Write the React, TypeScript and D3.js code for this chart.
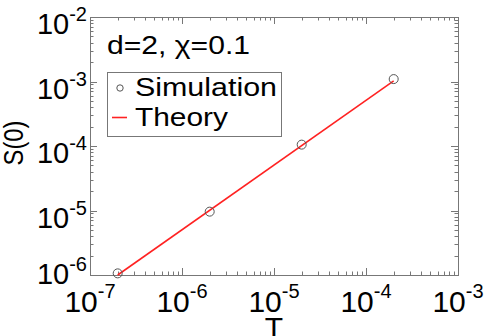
import React, { useEffect, useRef } from 'react';
import * as d3 from 'd3';

// simulation points and theory line
const simT = [2e-7, 2e-6, 2e-5, 2e-4];
const simS = [1.06e-6, 9.6e-6, 1.05e-4, 1.09e-3];
const theoryT = [2e-7, 2e-4];
const theoryS = [1.0e-6, 1.02e-3];
const xExps = [-7, -6, -5, -4, -3];
const yExps = [-6, -5, -4, -3, -2];

const W = 485, H = 336;
const m = { left: 90, right: 458, top: 17, bottom: 275 };
const font = 'Liberation Sans, Arial, Helvetica, sans-serif';

const App = () => {
    const ref = useRef<SVGSVGElement>(null);
    useEffect(() => {
        const svg = d3.select(ref.current);
        svg.selectAll('*').remove();

        const x = d3.scaleLog().domain([1e-7, 1e-3]).range([m.left, m.right]);
        const y = d3.scaleLog().domain([1e-6, 1e-2]).range([m.bottom, m.top]);

        const frame = '#777';
        const ticks = svg.append('g').attr('stroke', frame).attr('stroke-width', 1);

        // log ticks, mirrored on all four sides, pointing inward
        x.ticks().forEach(t => {
            const major = xExps.some(e => Math.abs(Math.log10(t) - e) < 1e-6);
            const len = major ? 7 : 3.5;
            const px = Math.round(x(t)) + 0.5;
            ticks.append('line').attr('x1', px).attr('x2', px).attr('y1', m.bottom).attr('y2', m.bottom - len);
            ticks.append('line').attr('x1', px).attr('x2', px).attr('y1', m.top).attr('y2', m.top + len);
        });
        y.ticks().forEach(t => {
            const major = yExps.some(e => Math.abs(Math.log10(t) - e) < 1e-6);
            const len = major ? 7 : 3.5;
            const py = Math.round(y(t)) + 0.5;
            ticks.append('line').attr('y1', py).attr('y2', py).attr('x1', m.left).attr('x2', m.left + len);
            ticks.append('line').attr('y1', py).attr('y2', py).attr('x1', m.right).attr('x2', m.right - len);
        });

        svg.append('rect')
            .attr('x', m.left + 0.5).attr('y', m.top + 0.5)
            .attr('width', m.right - m.left).attr('height', m.bottom - m.top)
            .attr('fill', 'none').attr('stroke', frame).attr('stroke-width', 1);

        // x tick labels
        const xl = svg.append('g').attr('font-family', font).attr('fill', '#000');
        xExps.forEach(e => {
            const t = xl.append('text')
                .attr('x', x(Math.pow(10, e)))
                .attr('y', 312)
                .attr('text-anchor', 'middle')
                .attr('font-size', 30);
            t.append('tspan').text('10');
            t.append('tspan').attr('font-size', 20).attr('dy', -14).text(String(e));
        });

        // y tick labels
        const yl = svg.append('g').attr('font-family', font).attr('fill', '#000');
        yExps.forEach(e => {
            const t = yl.append('text')
                .attr('x', 87)
                .attr('y', y(Math.pow(10, e)) + (e === -6 ? 9 : 17))
                .attr('text-anchor', 'end')
                .attr('font-size', 29);
            t.append('tspan').text('10');
            t.append('tspan').attr('font-size', 20).attr('dy', -13).text(String(e));
        });

        // axis titles
        svg.append('text')
            .attr('transform', 'translate(23,143) rotate(-90)')
            .attr('text-anchor', 'middle')
            .attr('font-family', font).attr('font-size', 28)
            .attr('textLength', 45).attr('lengthAdjust', 'spacingAndGlyphs')
            .text('S(0)');
        svg.append('text')
            .attr('x', (m.left + m.right) / 2).attr('y', 338)
            .attr('text-anchor', 'middle')
            .attr('font-family', font).attr('font-size', 30)
            .text('T');

        // theory line
        const line = d3.line<number>()
            .x((d, i) => x(theoryT[i]))
            .y(d => y(d));
        svg.append('path')
            .datum(theoryS)
            .attr('d', line)
            .attr('fill', 'none')
            .attr('stroke', '#f22')
            .attr('stroke-width', 1.6);

        // simulation circles
        svg.append('g')
            .selectAll('circle')
            .data(simS)
            .join('circle')
            .attr('cx', (d, i) => x(simT[i]))
            .attr('cy', d => y(d))
            .attr('r', 4.5)
            .attr('fill', 'none')
            .attr('stroke', '#555')
            .attr('stroke-width', 1);

        // annotation
        svg.append('text')
            .attr('x', 107).attr('y', 54)
            .attr('font-family', font).attr('font-size', 26)
            .attr('textLength', 143).attr('lengthAdjust', 'spacingAndGlyphs')
            .text('d=2, χ=0.1');

        // legend
        const lg = svg.append('g');
        lg.append('rect')
            .attr('x', 107.5).attr('y', 72.5).attr('width', 174).attr('height', 64)
            .attr('fill', '#fff').attr('stroke', frame).attr('stroke-width', 1);
        lg.append('circle')
            .attr('cx', 120).attr('cy', 88).attr('r', 3.2)
            .attr('fill', 'none').attr('stroke', '#555').attr('stroke-width', 1);
        lg.append('text')
            .attr('x', 135).attr('y', 96)
            .attr('font-family', font).attr('font-size', 26)
            .attr('textLength', 142).attr('lengthAdjust', 'spacingAndGlyphs')
            .text('Simulation');
        lg.append('line')
            .attr('x1', 112).attr('x2', 127).attr('y1', 117.5).attr('y2', 117.5)
            .attr('stroke', '#f22').attr('stroke-width', 1.6);
        lg.append('text')
            .attr('x', 135).attr('y', 126)
            .attr('font-family', font).attr('font-size', 26)
            .attr('textLength', 93).attr('lengthAdjust', 'spacingAndGlyphs')
            .text('Theory');
    }, []);
    return (
        <div style={{ position: 'absolute', left: 0, top: 0 }}>
            <svg ref={ref} width={W} height={H} style={{ display: 'block', background: '#fff' }} />
        </div>
    );
};

export default App;
